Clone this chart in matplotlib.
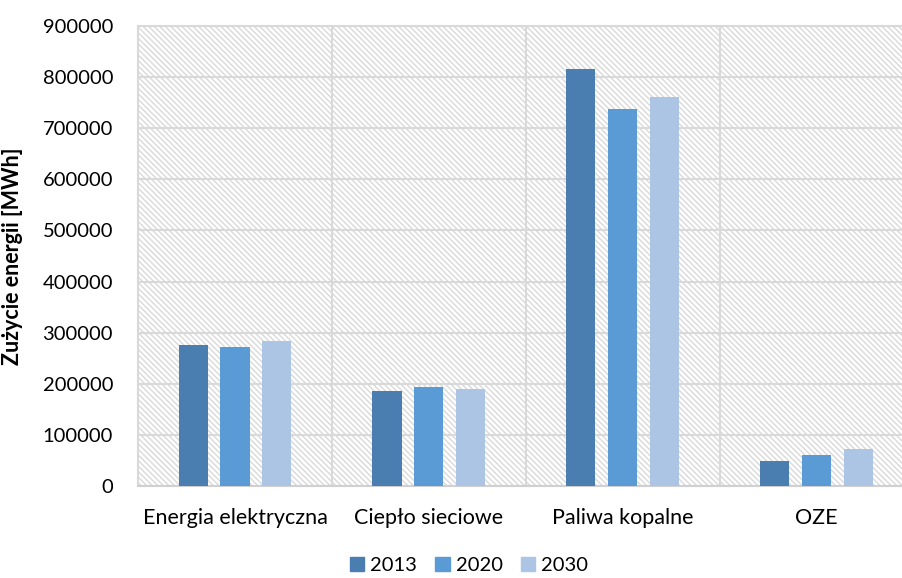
import matplotlib.pyplot as plt
import matplotlib.patches as mpatches
import numpy as np

categories = ["Energia elektryczna", "Ciepło sieciowe", "Paliwa kopalne", "OZE"]
years = ["2013", "2020", "2030"]
values_2013 = [276000, 186000, 816000, 49000]
values_2020 = [272000, 194000, 738000, 61000]
values_2030 = [284000, 190000, 761000, 72500]
colors = ["#4a7eb0", "#5b9bd5", "#adc5e5"]

plt.rcParams['font.family'] = ['Lato', 'DejaVu Sans']
plt.rcParams['hatch.color'] = '#d9d9d9'
plt.rcParams['hatch.linewidth'] = 1.0

fig = plt.figure(figsize=(9.02, 5.78), dpi=100)
ax = fig.add_axes([0.153, 0.159, 0.86, 0.796])

# hatched plot background
bg = mpatches.Rectangle((0, 0), 1, 1, transform=ax.transAxes, facecolor='white',
                        edgecolor='#d9d9d9', hatch='\\\\\\\\\\\\', linewidth=0, zorder=0)
ax.add_patch(bg)

x = np.arange(len(categories))
step = 0.216
width = 0.15
for i, (vals, lab) in enumerate(zip([values_2013, values_2020, values_2030], years)):
    ax.bar(x + (i - 1) * step, vals, width, color=colors[i], label=lab, zorder=3)

ax.set_xlim(-0.5, 3.5)
ax.set_ylim(0, 900000)
ax.set_yticks(np.arange(0, 900001, 100000))
ax.set_yticklabels([str(v) for v in range(0, 900001, 100000)])
ax.set_xticks(x)
ax.set_xticklabels(categories, fontsize=15.5)
ax.set_xticks([0.5, 1.5, 2.5], minor=True)

ax.grid(axis='y', which='major', color='#d9d9d9', linewidth=1.5, zorder=1)
ax.grid(axis='x', which='minor', color='#d9d9d9', linewidth=1.5, zorder=1)
ax.set_axisbelow(True)

ax.tick_params(axis='both', which='both', length=0, colors='#000000')
ax.tick_params(axis='y', labelsize=14.5, pad=18)
ax.tick_params(axis='x', pad=16)
for s in ['top', 'right', 'left']:
    ax.spines[s].set_color('#d9d9d9')
    ax.spines[s].set_linewidth(1.5)
ax.spines['bottom'].set_color('#d0d0d0')
ax.spines['bottom'].set_linewidth(1.5)

ax.set_ylabel("Zużycie energii [MWh]", fontsize=15.5, fontweight='bold')
ax.yaxis.set_label_coords(-0.148, 0.5)

handles = [mpatches.Patch(color=c) for c in colors]
fig.legend(handles, years, loc='center', bbox_to_anchor=(0.52, 0.022), ncol=3,
           frameon=False, fontsize=14.5, handlelength=0.7, handleheight=0.7,
           handletextpad=0.3, columnspacing=0.9)

fig.savefig("out.png", dpi=100)
